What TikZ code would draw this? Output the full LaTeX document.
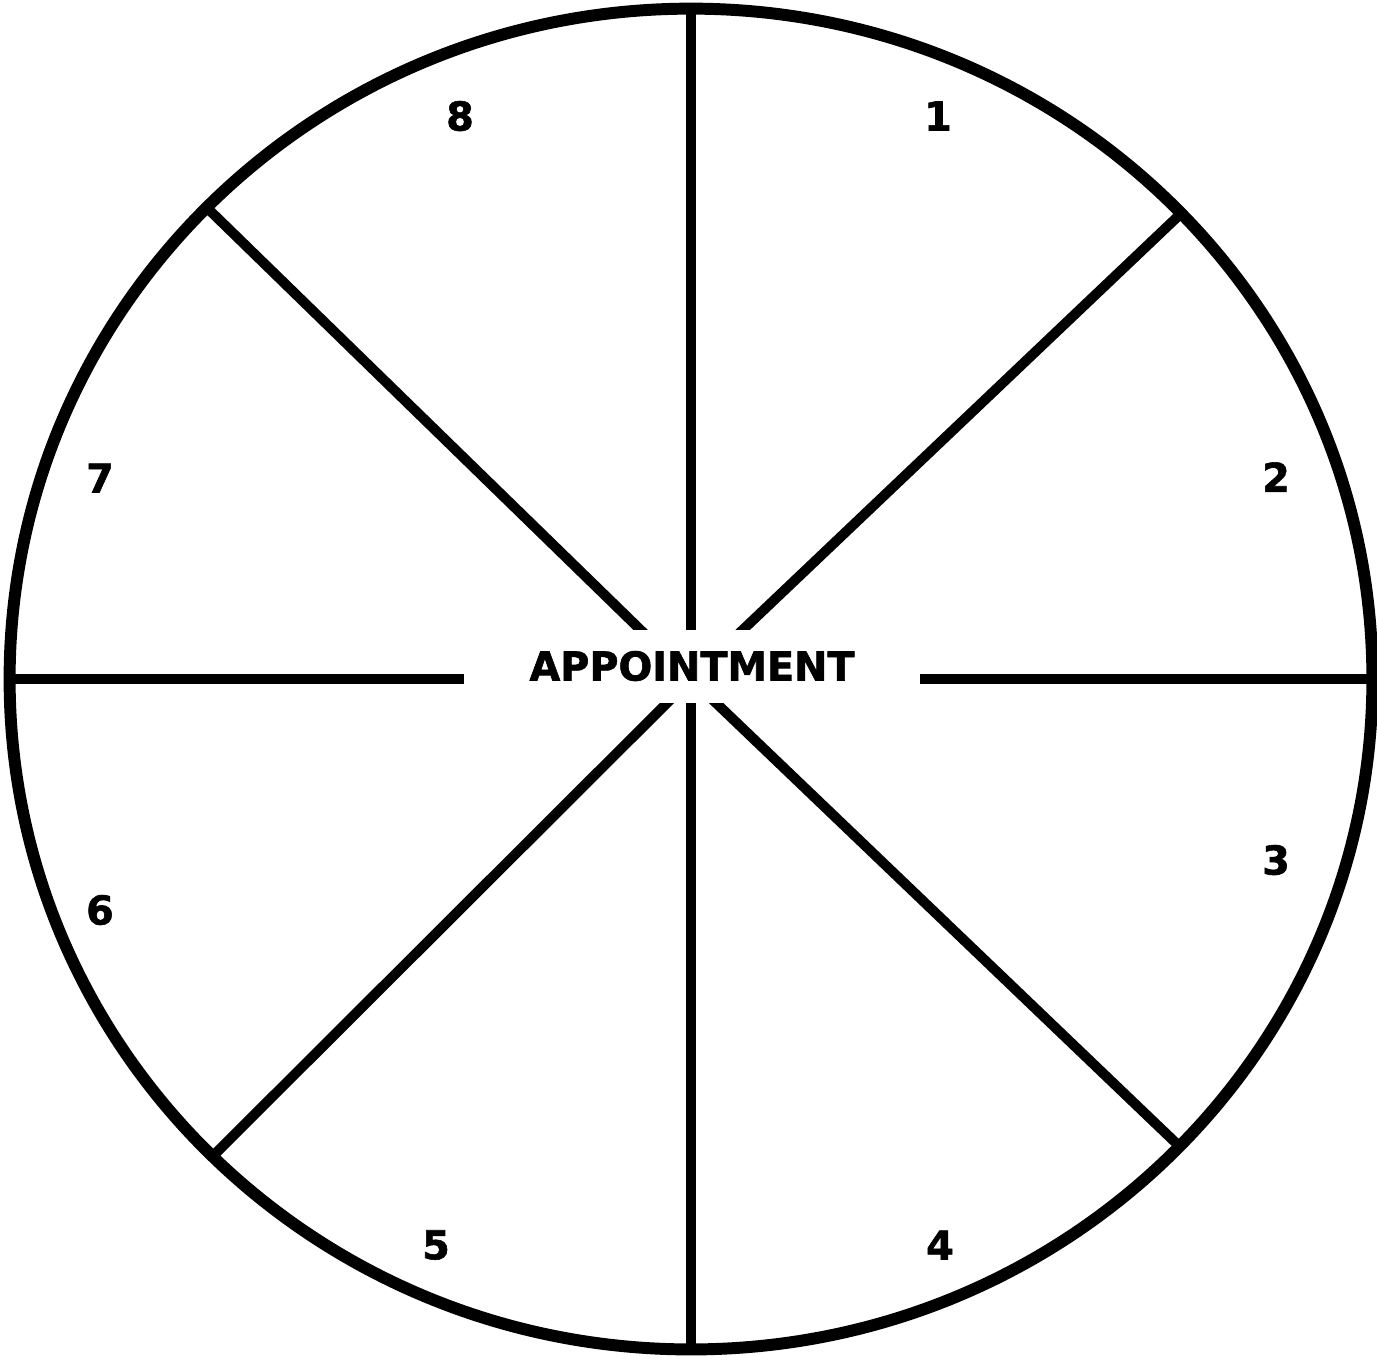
\documentclass[tikz,border=0pt]{standalone}
\usepackage{fontspec}
\newfontfamily\wheelfont[BoldFeatures={FakeBold=1.5}]{DejaVu Sans}

\begin{document}
\begin{tikzpicture}[x=0.01cm, y=-0.01cm,
  rim/.style={draw=black, line width=3.4pt},
  spoke/.style={draw=black, line width=2.85pt},
  hub/.style={fill=white, inner sep=0pt, minimum width=4.56cm, minimum height=0.73cm,
  font=\wheelfont\bfseries\fontsize{11.3}{13}\selectfont},
  num/.style={inner sep=1pt, font=\wheelfont\bfseries\fontsize{11.3}{13}\selectfont}
]
\useasboundingbox (0,0) rectangle (1377,1359);
\coordinate (c) at (691,679);
\draw[rim] (c) ellipse [x radius=6.81cm, y radius=6.70cm];

% rim points where the spokes meet the wheel
\foreach \a [count=\i] in {0,44,90,135.3,180,225.4,270,315.8}
  \coordinate (r\i) at ([shift={(c)}]\a:6.81cm and 6.70cm);
\foreach \i in {1,...,8}
  \draw[spoke] (c) -- (r\i);

\node[hub] (appt) at (692,666) {APPOINTMENT};

\node[num] (n1) at (938,116) {1};
\node[num] (n2) at (1276,477) {2};
\node[num] (n3) at (1276,860) {3};
\node[num] (n4) at (940,1245) {4};
\node[num] (n5) at (436,1245) {5};
\node[num] (n6) at (100,910) {6};
\node[num] (n7) at (100,478) {7};
\node[num] (n8) at (460,116) {8};
\end{tikzpicture}
\end{document}
